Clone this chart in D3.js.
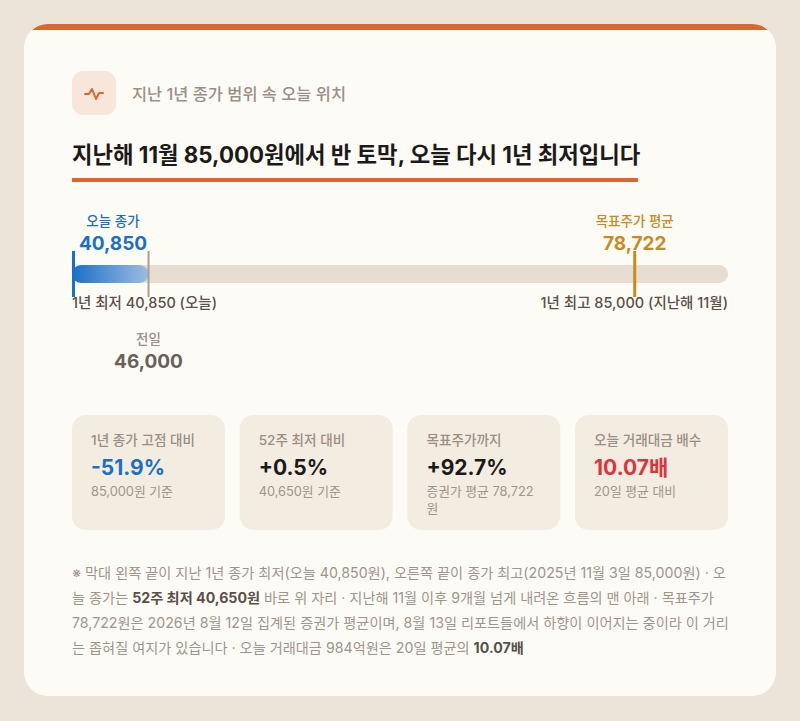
<!DOCTYPE html>
<html>
<head>
<meta charset="utf-8">
<script src="https://cdn.jsdelivr.net/npm/d3@7"></script>
<style>
  html, body { margin: 0; padding: 0; background: #ece4d8; }
  svg { display: block; }
  text { font-family: Inter, "Noto Sans CJK KR", sans-serif; }
</style>
</head>
<body>
<div id="chart"></div>
<script>
// --- data ---
const rangeLow = 40850;    // 1년 최저 (오늘)
const rangeHigh = 85000;   // 1년 최고 (지난해 11월)
const markers = [
    { key: 'today', label: '오늘 종가', value: 40850, color: '#1a6fc9' },
    { key: 'prev', label: '전일', value: 46000, color: '#a89d92' },
    { key: 'target', label: '목표주가 평균', value: 78722, color: '#c98a1e' }
];
const cardLabels = ['1년 종가 고점 대비', '52주 최저 대비', '목표주가까지', '오늘 거래대금 배수'];
const cardValues = ['-51.9%', '+0.5%', '+92.7%', '10.07배'];
const cardColors = ['#1a6fc9', '#1c1a18', '#1c1a18', '#e0323c'];
const cardNotes = [['85,000원 기준'], ['40,650원 기준'], ['증권가 평균 78,722', '원'], ['20일 평균 대비']];
const footLines = [
    [['※ 막대 왼쪽 끝이 지난 1년 종가 최저(오늘 40,850원), 오른쪽 끝이 종가 최고(2025년 11월 3일 85,000원) · 오', false]],
    [['늘 종가는 ', false], ['52주 최저 40,650원', true], [' 바로 위 자리 · 지난해 11월 이후 9개월 넘게 내려온 흐름의 맨 아래 · 목표주가', false]],
    [['78,722원은 2026년 8월 12일 집계된 증권가 평균이며, 8월 13일 리포트들에서 하향이 이어지는 중이라 이 거리', false]],
    [['는 좁혀질 여지가 있습니다 · 오늘 거래대금 984억원은 20일 평균의 ', false], ['10.07배', true]]
];

const W = 800, H = 721;
const svg = d3.select('#chart').append('svg')
    .attr('width', W)
    .attr('height', H);

const defs = svg.append('defs');
const clip = defs.append('clipPath').attr('id', 'cardClip');
clip.append('rect').attr('x', 24).attr('y', 24).attr('width', 752).attr('height', 672).attr('rx', 24);
const grad = defs.append('linearGradient').attr('id', 'fillGrad');
grad.append('stop').attr('offset', '0%').attr('stop-color', '#1a6fc9');
grad.append('stop').attr('offset', '100%').attr('stop-color', '#9dbde0');

// card + top stripe
const card = svg.append('g').attr('clip-path', 'url(#cardClip)');
card.append('rect').attr('x', 24).attr('y', 24).attr('width', 752).attr('height', 672).attr('fill', '#fdfbf6');
card.append('rect').attr('x', 24).attr('y', 24).attr('width', 752).attr('height', 6).attr('fill', '#dc6630');

// header icon
svg.append('rect').attr('x', 72).attr('y', 71).attr('width', 44).attr('height', 44).attr('rx', 11)
    .attr('fill', '#f9e6da');
svg.append('path')
    .attr('d', 'M85,94 L89,94 L92,89 L96,99 L99,93 L103,93')
    .attr('fill', 'none').attr('stroke', '#dc6630').attr('stroke-width', 2)
    .attr('stroke-linecap', 'round').attr('stroke-linejoin', 'round');
svg.append('text').attr('x', 132).attr('y', 100).attr('font-size', 16.4).attr('font-weight', 500)
    .attr('fill', '#9a8f84').text('지난 1년 종가 범위 속 오늘 위치');

// title
svg.append('text').attr('x', 72).attr('y', 163).attr('font-size', 22.3).attr('font-weight', 700)
    .attr('fill', '#1c1a18')
    .text('지난해 11월 85,000원에서 반 토막, 오늘 다시 1년 최저입니다');
svg.append('rect').attr('x', 72).attr('y', 178).attr('width', 566).attr('height', 4).attr('fill', '#dc6630');

// range bar
const x = d3.scaleLinear().domain([rangeLow, rangeHigh]).range([72, 728]);
const barY = 265, barH = 18;
const mk = {};
markers.forEach(m => { mk[m.key] = m; });

svg.append('rect').attr('x', x(rangeLow)).attr('y', barY)
    .attr('width', x(rangeHigh) - x(rangeLow)).attr('height', barH).attr('rx', barH / 2)
    .attr('fill', '#e6ddd0');
svg.append('rect').attr('x', x(mk.today.value)).attr('y', barY)
    .attr('width', x(mk.prev.value) - x(mk.today.value)).attr('height', barH).attr('rx', barH / 2)
    .attr('fill', 'url(#fillGrad)');

// marker lines
svg.selectAll('.marker')
    .data(markers)
    .enter()
    .append('line')
    .attr('class', 'marker')
    .attr('x1', d => d.key === 'today' ? x(d.value) + 1.5 : x(d.value))
    .attr('x2', d => d.key === 'today' ? x(d.value) + 1.5 : x(d.value))
    .attr('y1', 251).attr('y2', 297)
    .attr('stroke', d => d.color)
    .attr('stroke-width', d => d.key === 'prev' ? 2 : 3);

const fmt = d3.format(',');

// labels above bar (today, target)
const above = markers.filter(m => m.key !== 'prev');
const labelX = d => Math.max(x(d.value), 113);
svg.selectAll('.lblTop')
    .data(above)
    .enter()
    .append('text')
    .attr('x', labelX).attr('y', 226).attr('text-anchor', 'middle')
    .attr('font-size', 13.5).attr('font-weight', 500).attr('fill', d => d.color)
    .text(d => d.label);
svg.selectAll('.valTop')
    .data(above)
    .enter()
    .append('text')
    .attr('x', labelX).attr('y', 250).attr('text-anchor', 'middle')
    .attr('font-size', 19).attr('font-weight', 700).attr('fill', d => d.color)
    .text(d => fmt(d.value));

// previous close label below
svg.append('text').attr('x', x(mk.prev.value)).attr('y', 344).attr('text-anchor', 'middle')
    .attr('font-size', 13.5).attr('font-weight', 500).attr('fill', '#9a8f84').text(mk.prev.label);
svg.append('text').attr('x', x(mk.prev.value)).attr('y', 368).attr('text-anchor', 'middle')
    .attr('font-size', 19).attr('font-weight', 700).attr('fill', '#6b6058').text(fmt(mk.prev.value));

// range end labels
svg.append('text').attr('x', x(rangeLow)).attr('y', 308)
    .attr('font-size', 14.5).attr('font-weight', 500).attr('fill', '#5a5048')
    .text(`1년 최저 ${fmt(rangeLow)} (오늘)`);
svg.append('text').attr('x', x(rangeHigh)).attr('y', 308).attr('text-anchor', 'end')
    .attr('font-size', 14.5).attr('font-weight', 500).attr('fill', '#5a5048')
    .text(`1년 최고 ${fmt(rangeHigh)} (지난해 11월)`);

// stat cards
const cardBand = d3.scaleBand().domain(d3.range(cardLabels.length)).range([72, 728]).paddingInner(0.088);
const cards = svg.selectAll('.stat')
    .data(cardLabels)
    .enter()
    .append('g')
    .attr('class', 'stat')
    .attr('transform', (d, i) => `translate(${cardBand(i)},415)`);
cards.append('rect').attr('width', cardBand.bandwidth()).attr('height', 115).attr('rx', 14)
    .attr('fill', '#f3ece1');
cards.append('text').attr('x', 19).attr('y', 30).attr('font-size', 13.6).attr('font-weight', 500)
    .attr('fill', '#9a8f84').text(d => d);
cards.append('text').attr('x', 19).attr('y', 60).attr('font-size', 21).attr('font-weight', 700)
    .attr('fill', (d, i) => cardColors[i]).text((d, i) => cardValues[i]);
cards.each(function(d, i) {
    d3.select(this).selectAll('.note')
        .data(cardNotes[i])
        .enter()
        .append('text')
        .attr('x', 19).attr('y', (n, j) => 81 + j * 17)
        .attr('font-size', 12.8).attr('fill', '#a0958a')
        .text(n => n);
});

// footnote
const foot = svg.append('g');
footLines.forEach((segs, i) => {
    const t = foot.append('text').attr('x', 72).attr('y', 578 + i * 25)
        .attr('font-size', 14.2).attr('fill', '#a0958a');
    segs.forEach(s => {
        t.append('tspan')
            .attr('font-weight', s[1] ? 700 : 400)
            .attr('fill', s[1] ? '#5a5048' : '#a0958a')
            .text(s[0]);
    });
});
</script>
</body>
</html>
